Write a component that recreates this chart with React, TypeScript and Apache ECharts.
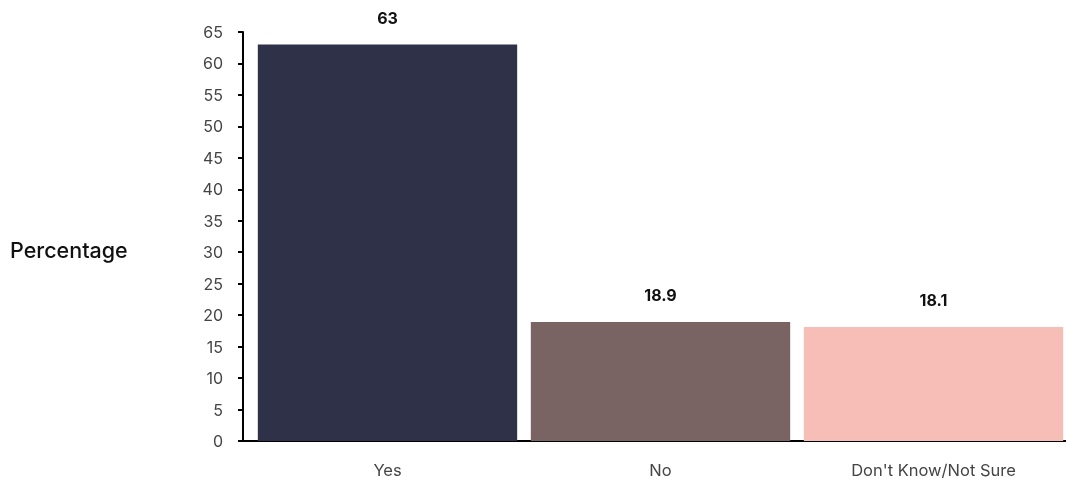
import React, { useEffect, useRef } from "react";
import * as echarts from "echarts";

const categories = ["Yes", "No", "Don't Know/Not Sure"];
const values = [63, 18.9, 18.1];
const barColors = ["#2f3148", "#7a6463", "#f6beb7"];
const yTicks = { min: 0, max: 65, interval: 5 };

export default function App() {
  const ref = useRef<HTMLDivElement>(null);
  useEffect(() => {
    if (!ref.current) return;
    const chart = echarts.init(ref.current, null, { renderer: "svg" });
    const font = "Inter, 'Noto Sans', sans-serif";
    chart.setOption({
      animation: false,
      textStyle: { fontFamily: font },
      title: {
        text: "Percentage",
        left: 5,
        top: 234,
        textStyle: { fontSize: 21.5, fontWeight: 500, color: "#111", fontFamily: font },
      },
      grid: { left: 251, right: 4, top: 32, bottom: 41, containLabel: false },
      xAxis: {
        type: "category",
        data: categories,
        axisLine: { lineStyle: { color: "#000", width: 2 } },
        axisTick: { alignWithLabel: true, length: 4, lineStyle: { color: "#000", width: 2 } },
        axisLabel: { color: "#444", fontSize: 16.5, margin: 20, fontFamily: font },
      },
      yAxis: {
        type: "value",
        min: yTicks.min,
        max: yTicks.max,
        interval: yTicks.interval,
        offset: 8,
        splitLine: { show: false },
        axisLine: { show: true, lineStyle: { color: "#000", width: 2 } },
        axisTick: { show: true, length: 5, lineStyle: { color: "#000", width: 2 } },
        axisLabel: { color: "#444", fontSize: 16, margin: 20, fontFamily: font },
      },
      graphic: [
        {
          type: "line",
          shape: { x1: 238, y1: 441, x2: 252, y2: 441 },
          style: { stroke: "#000", lineWidth: 2 },
        },
      ],
      series: [
        {
          type: "bar",
          barCategoryGap: "5%",
          data: values.map((v, i) => ({ value: v, itemStyle: { color: barColors[i] } })),
          label: {
            show: true,
            position: "top",
            distance: 19,
            color: "#111",
            fontSize: 16,
            fontWeight: "bold",
            fontFamily: font,
          },
        },
      ],
    });
    return () => chart.dispose();
  }, []);
  return (
    <div
      ref={ref}
      style={{ position: "fixed", left: 0, top: 0, width: 1074, height: 482 }}
    />
  );
}
